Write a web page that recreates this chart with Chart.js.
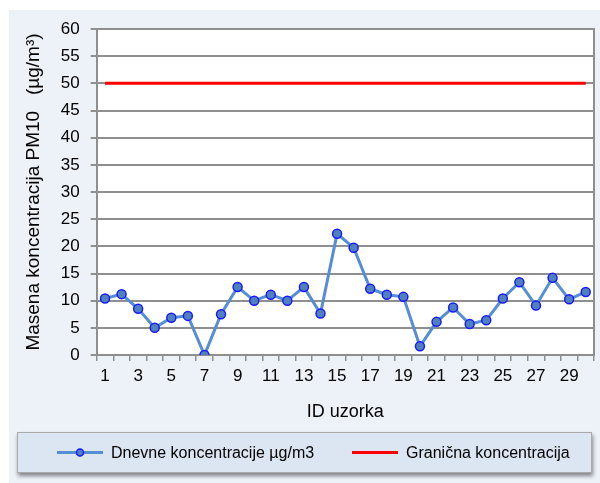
<!DOCTYPE html>
<html>
<head>
<meta charset="utf-8">
<script src="https://cdn.jsdelivr.net/npm/chart.js@4.4.1/dist/chart.umd.min.js"></script>
<style>
    html, body { margin: 0; padding: 0; background: #ffffff; }
    canvas { display: block; }
</style>
</head>
<body>
<canvas id="pmChart" width="600" height="483"></canvas>
<script>
// Sample IDs on the x axis
const sampleIds = ['1', '2', '3', '4', '5', '6', '7', '8', '9', '10',
    '11', '12', '13', '14', '15', '16', '17', '18', '19', '20',
    '21', '22', '23', '24', '25', '26', '27', '28', '29', '30'];

// Daily PM10 concentrations (µg/m3)
const dailyValues = [10.4, 11.2, 8.5, 5.0, 6.85, 7.2, 0, 7.5, 12.5, 10.0,
    11.1, 10.0, 12.5, 7.65, 22.3, 19.75, 12.2, 11.1, 10.7, 1.6,
    6.1, 8.75, 5.7, 6.4, 10.4, 13.4, 9.1, 14.2, 10.25, 11.6];

// Limit value
const limitValues = [50, 50, 50, 50, 50, 50, 50, 50, 50, 50,
    50, 50, 50, 50, 50, 50, 50, 50, 50, 50,
    50, 50, 50, 50, 50, 50, 50, 50, 50, 50];

const seriesNames = ['Dnevne koncentracije µg/m3', 'Granična koncentracija'];

const FONT = 'Arial, "Liberation Sans", sans-serif';
const GRID = '#8f8f8f';

// Light panel behind the chart and white plot area
const panelPlugin = {
    id: 'panelBackground',
    beforeDraw(chart) {
        const { ctx, chartArea } = chart;
        ctx.save();
        ctx.fillStyle = '#ffffff';
        ctx.fillRect(0, 0, chart.width, chart.height);
        ctx.fillStyle = '#edf1f8';
        ctx.fillRect(9, 10, chart.width - 9, chart.height - 10);
        ctx.fillStyle = '#ffffff';
        ctx.fillRect(chartArea.left, chartArea.top, chartArea.right - chartArea.left, chartArea.bottom - chartArea.top);
        ctx.restore();
    }
};

// Boxed legend under the axis title
const legendBoxPlugin = {
    id: 'legendBox',
    afterDraw(chart) {
        const ctx = chart.ctx;
        const datasets = chart.data.datasets;
        const box = { x: 17, y: 432, w: 575, h: 41 };
        const midY = box.y + box.h / 2;

        ctx.save();
        ctx.shadowColor = 'rgba(0, 0, 0, 0.45)';
        ctx.shadowBlur = 4;
        ctx.shadowOffsetX = 1;
        ctx.shadowOffsetY = 3;
        ctx.fillStyle = '#dce6f2';
        ctx.fillRect(box.x, box.y, box.w, box.h);
        ctx.shadowColor = 'transparent';
        ctx.strokeStyle = '#a9a9a9';
        ctx.lineWidth = 1;
        ctx.strokeRect(box.x + 0.5, box.y + 0.5, box.w - 1, box.h - 1);

        const items = [{ x: 57, index: 0 }, { x: 352, index: 1 }];
        items.forEach(item => {
            const ds = datasets[item.index];
            ctx.strokeStyle = ds.borderColor;
            ctx.lineWidth = ds.borderWidth;
            ctx.beginPath();
            ctx.moveTo(item.x, midY);
            ctx.lineTo(item.x + 46, midY);
            ctx.stroke();
            if (ds.pointRadius > 0) {
                ctx.fillStyle = ds.pointBackgroundColor;
                ctx.strokeStyle = ds.pointBorderColor;
                ctx.lineWidth = ds.pointBorderWidth;
                ctx.beginPath();
                ctx.arc(item.x + 23, midY, 3.5, 0, Math.PI * 2);
                ctx.fill();
                ctx.stroke();
            }
            ctx.fillStyle = '#000000';
            ctx.font = '16px ' + FONT;
            ctx.textBaseline = 'middle';
            ctx.fillText(ds.label, item.x + 54, midY + 1);
        });
        ctx.restore();
    }
};

const ctx = document.getElementById('pmChart').getContext('2d');

new Chart(ctx, {
    type: 'line',
    data: {
        labels: sampleIds,
        datasets: [
            {
                label: seriesNames[0],
                data: dailyValues,
                borderColor: '#558ed5',
                borderWidth: 3,
                pointRadius: 4.5,
                pointBackgroundColor: '#4f81bd',
                pointBorderColor: '#1a1aff',
                pointBorderWidth: 1.5,
                tension: 0,
                order: 1
            },
            {
                label: seriesNames[1],
                data: limitValues,
                borderColor: '#ff0000',
                borderWidth: 3,
                pointRadius: 0,
                tension: 0,
                order: 2
            }
        ]
    },
    options: {
        responsive: false,
        animation: false,
        layout: {
            padding: { left: 19, right: 6, top: 29, bottom: 56 }
        },
        plugins: {
            legend: { display: false },
            tooltip: { enabled: false }
        },
        scales: {
            x: {
                offset: true,
                grid: {
                    offset: true,
                    drawOnChartArea: false,
                    drawTicks: true,
                    tickLength: 6,
                    color: GRID,
                    lineWidth: 1.5
                },
                border: { color: GRID, width: 2 },
                ticks: {
                    autoSkip: false,
                    maxRotation: 0,
                    minRotation: 0,
                    padding: 5,
                    color: '#000000',
                    font: { family: FONT, size: 17 },
                    callback: function (value, index) {
                        return index % 2 === 0 ? this.getLabelForValue(value) : '';
                    }
                },
                title: {
                    display: true,
                    text: 'ID uzorka',
                    color: '#000000',
                    font: { family: FONT, size: 18 },
                    padding: { top: 10, bottom: 4 }
                }
            },
            y: {
                min: 0,
                max: 60,
                grid: {
                    color: GRID,
                    lineWidth: 2,
                    tickLength: 6
                },
                border: { color: GRID, width: 2 },
                ticks: {
                    stepSize: 5,
                    padding: 11,
                    color: '#000000',
                    font: { family: FONT, size: 17 }
                },
                title: {
                    display: true,
                    text: 'Masena koncentracija PM10   (µg/m³)',
                    color: '#000000',
                    font: { family: FONT, size: 19 },
                    padding: { top: 3, bottom: 5 }
                }
            },
            yRight: {
                position: 'right',
                min: 0,
                max: 60,
                grid: { display: false, drawTicks: false },
                ticks: { display: false },
                border: { color: GRID, width: 2 }
            }
        }
    },
    plugins: [panelPlugin, legendBoxPlugin]
});
</script>
</body>
</html>
